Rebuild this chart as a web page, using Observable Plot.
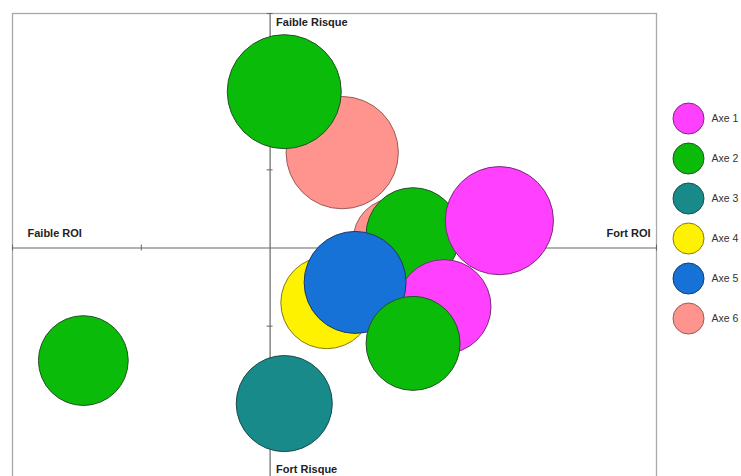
<!DOCTYPE html>
<html>
<head>
<meta charset="utf-8">
<script src="https://cdn.jsdelivr.net/npm/d3@7"></script>
<script src="https://cdn.jsdelivr.net/npm/@observablehq/plot@0.6"></script>
<style>
  html, body { margin: 0; padding: 0; background: #fff; }
  #wrap { position: relative; width: 741px; height: 476px; overflow: hidden; font-family: "Liberation Sans", Arial, sans-serif; }
  #legend { position: absolute; left: 660px; top: 98px; }
</style>
</head>
<body>
<div id="wrap"><div id="chart"></div><div id="legend"></div></div>
<script>
// Series (legend)
const seriesNames = ["Axe 1", "Axe 2", "Axe 3", "Axe 4", "Axe 5", "Axe 6"];
const fillColors = ["#ff40ff", "#0abb0a", "#198a8a", "#fff200", "#1672d6", "#ff948f"];
const strokeColors = ["#7a2a7a", "#245224", "#1a4a4a", "#857a10", "#1a3a6a", "#9a5a56"];

// Bubbles (in drawing order)
const bubbleSeries = ["Axe 6", "Axe 2", "Axe 6", "Axe 2", "Axe 1", "Axe 1", "Axe 4", "Axe 5", "Axe 2", "Axe 2", "Axe 3"];
const roi          = [0.56, 0.11, 0.97, 1.11, 1.78, 1.35, 0.44, 0.66, 1.11, -1.45, 0.11];
const risk         = [1.22, 2.00, 0.10, 0.17, 0.35, -0.75, -0.70, -0.44, -1.22, -1.44, -1.99];
const size         = [97, 100, 54, 68, 90, 68, 65, 80, 68, 62, 71];

// Axis ticks
const xTicks = [-2, -1, 1, 2, 3];
const yTicks = [-3, -2, -1, 1, 2, 3];

// Quadrant labels
const quadLabels = ["Faible Risque", "Fort Risque", "Faible ROI", "Fort ROI"];
const quadX = [0, 0, -2, 3];
const quadY = [3, -3, 0, 0];

const bubbles = bubbleSeries.map((s, i) => ({series: s, x: roi[i], y: risk[i], size: size[i]}));
const fillOf = s => fillColors[seriesNames.indexOf(s)];
const strokeOf = s => strokeColors[seriesNames.indexOf(s)];
const quads = quadLabels.map((t, i) => ({text: t, x: quadX[i], y: quadY[i]}));

const labelStyle = {fontWeight: "bold", fontSize: 11, fill: "#222"};

const chart = Plot.plot({
  width: 741,
  height: 476,
  marginLeft: 12,
  marginRight: 85,
  marginTop: 13,
  marginBottom: -6,
  style: {fontFamily: "Liberation Sans, Arial, sans-serif", background: "#fff"},
  x: {domain: [-2, 3], axis: null},
  y: {domain: [-3, 3], axis: null},
  r: {type: "sqrt", domain: [0, 100], range: [0, 57]},
  color: {type: "identity"},
  marks: [
    Plot.frame({stroke: "#a8a8a8", strokeWidth: 1.3}),
    Plot.ruleX([0], {stroke: "#666", strokeWidth: 1.2}),
    Plot.ruleY([0], {stroke: "#666", strokeWidth: 1.2}),
    Plot.ruleX(xTicks, {x: d => d, y1: 0, y2: 0, insetTop: -3, insetBottom: -3, stroke: "#666"}),
    Plot.ruleY(yTicks, {y: d => d, x1: 0, x2: 0, insetLeft: -3, insetRight: -3, stroke: "#666"}),
    Plot.dot(bubbles, {
      x: "x", y: "y", r: "size", sort: null,
      fill: d => fillOf(d.series), stroke: d => strokeOf(d.series),
      strokeWidth: 1, fillOpacity: 1
    }),
    Plot.text([quads[0]], {x: "x", y: "y", text: "text", textAnchor: "start", dx: 6, dy: 9, ...labelStyle}),
    Plot.text([quads[1]], {x: "x", y: "y", text: "text", textAnchor: "start", dx: 6, dy: -13, ...labelStyle}),
    Plot.text([quads[2]], {x: "x", y: "y", text: "text", textAnchor: "start", dx: 15, dy: -15, ...labelStyle}),
    Plot.text([quads[3]], {x: "x", y: "y", text: "text", textAnchor: "end", dx: -6, dy: -15, ...labelStyle})
  ]
});
document.getElementById("chart").appendChild(chart);

const legend = Plot.plot({
  width: 81,
  height: 240,
  marginLeft: 28,
  marginRight: 0,
  marginTop: 20,
  marginBottom: 20,
  style: {fontFamily: "Liberation Sans, Arial, sans-serif", background: "transparent"},
  x: {domain: [0, 1], axis: null},
  y: {type: "point", domain: seriesNames, axis: null, padding: 0},
  color: {type: "identity"},
  marks: [
    Plot.dot(seriesNames, {x: () => 0, y: d => d, r: 15.5, fill: d => fillOf(d), stroke: d => strokeOf(d), strokeWidth: 1}),
    Plot.text(seriesNames, {x: () => 0, y: d => d, text: d => d, dx: 23, textAnchor: "start", fontSize: 10.5, fill: "#333"})
  ]
});
document.getElementById("legend").appendChild(legend);
</script>
</body>
</html>
